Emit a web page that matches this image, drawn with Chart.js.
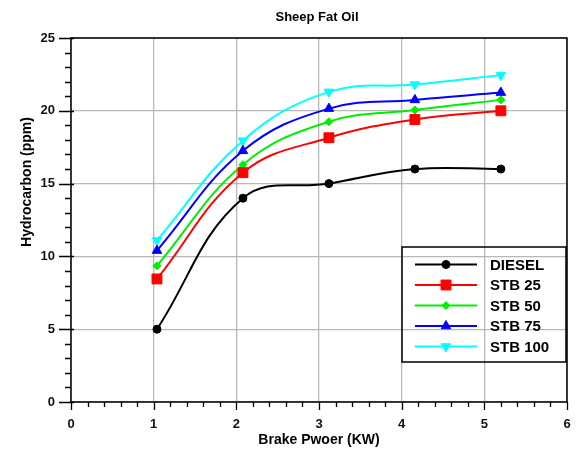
<!DOCTYPE html>
<html>
<head>
<meta charset="utf-8">
<script src="https://cdn.jsdelivr.net/npm/chart.js@4.4.1/dist/chart.umd.min.js"></script>
<style>
  html, body { margin: 0; padding: 0; background: #fff; }
</style>
</head>
<body>
<canvas id="chart" width="579" height="452"></canvas>
<script>
// values
const brakePower = [1.04, 2.08, 3.12, 4.16, 5.2];
const diesel = [5, 14, 15, 16, 16];
const stb25 = [8.45, 15.75, 18.15, 19.4, 20.0];
const stb50 = [9.35, 16.3, 19.25, 20.05, 20.75];
const stb75 = [10.4, 17.25, 20.15, 20.75, 21.25];
const stb100 = [11.1, 17.95, 21.3, 21.8, 22.45];
const seriesNames = ['DIESEL', 'STB 25', 'STB 50', 'STB 75', 'STB 100'];
const xTicks = [0, 1, 2, 3, 4, 5, 6];
const yTicks = [0, 5, 10, 15, 20, 25];

const FONT = '"Liberation Sans", Arial, sans-serif';

const toPoints = vals => vals.map((v, i) => ({ x: brakePower[i], y: v }));

function series(label, vals, color, style, radius, rotation) {
  return {
    label: label,
    data: toPoints(vals),
    borderColor: color,
    backgroundColor: color,
    borderWidth: 2,
    pointStyle: style,
    pointRadius: radius,
    pointHoverRadius: radius,
    pointRotation: rotation || 0,
    pointBorderWidth: 1,
    tension: 0.4,
    fill: false
  };
}

// axis frame, minor ticks, titles and the legend box
const frame = {
  id: 'frame',
  afterDraw(chart) {
    const ctx = chart.ctx;
    const a = chart.chartArea;
    const xs = chart.scales.x, ys = chart.scales.y;
    ctx.save();
    ctx.strokeStyle = '#000';
    ctx.lineWidth = 1.5;
    ctx.strokeRect(a.left, a.top, a.right - a.left, a.bottom - a.top);

    ctx.lineWidth = 1.3;
    ctx.beginPath();
    for (let k = 0; k <= 30; k++) {
      const v = k / 5;
      const px = Math.round(xs.getPixelForValue(v)) + 0.5;
      const len = k % 5 === 0 ? 8 : 5;
      ctx.moveTo(px, a.bottom);
      ctx.lineTo(px, a.bottom + len);
    }
    for (let v = 0; v <= 25; v++) {
      const py = Math.round(ys.getPixelForValue(v)) + 0.5;
      if (v % 5 === 0) {
        ctx.moveTo(a.left - 12, py);
        ctx.lineTo(a.left + 3, py);
      } else {
        ctx.moveTo(a.left - 6, py);
        ctx.lineTo(a.left, py);
      }
    }
    ctx.stroke();

    // chart title
    ctx.fillStyle = '#000';
    ctx.font = 'bold 13px ' + FONT;
    ctx.textAlign = 'center';
    ctx.textBaseline = 'middle';
    ctx.fillText('Sheep Fat Oil', 317, 17);

    // y axis title
    ctx.save();
    ctx.translate(27, 182);
    ctx.rotate(-Math.PI / 2);
    ctx.font = 'bold 14px ' + FONT;
    ctx.fillText('Hydrocarbon (ppm)', 0, 0);
    ctx.restore();

    // legend
    const bx = 402, by = 247, bw = 164, bh = 115;
    ctx.lineWidth = 1.5;
    ctx.strokeStyle = '#000';
    ctx.strokeRect(bx, by, bw, bh);
    ctx.font = 'bold 15px ' + FONT;
    ctx.textAlign = 'left';
    chart.data.datasets.forEach((ds, i) => {
      const y = by + 17.5 + i * 20.5;
      ctx.strokeStyle = ds.borderColor;
      ctx.lineWidth = 2;
      ctx.beginPath();
      ctx.moveTo(415, y);
      ctx.lineTo(477, y);
      ctx.stroke();
      ctx.fillStyle = ds.backgroundColor;
      ctx.lineWidth = 1;
      Chart.helpers.drawPoint(ctx, {
        pointStyle: ds.pointStyle,
        radius: ds.pointRadius,
        rotation: ds.pointRotation,
        borderWidth: 1
      }, 446, y);
      ctx.fillStyle = '#000';
      ctx.fillText(ds.label, 490, y + 1);
    });
    ctx.restore();
  }
};

const ctx = document.getElementById('chart').getContext('2d');
new Chart(ctx, {
  type: 'line',
  data: {
    datasets: [
      series(seriesNames[0], diesel, '#000000', 'circle', 4),
      series(seriesNames[1], stb25, '#ff0000', 'rect', 7),
      series(seriesNames[2], stb50, '#00ee00', 'rectRot', 4),
      series(seriesNames[3], stb75, '#0000ff', 'triangle', 5.5),
      series(seriesNames[4], stb100, '#00ffff', 'triangle', 5.5, 180)
    ]
  },
  options: {
    responsive: false,
    animation: false,
    layout: { padding: { top: 38, right: 12, left: 0, bottom: 0 } },
    plugins: {
      legend: { display: false },
      title: { display: false },
      tooltip: { enabled: false }
    },
    scales: {
      x: {
        type: 'linear',
        min: 0,
        max: 6,
        afterBuildTicks: s => { s.ticks = xTicks.map(v => ({ value: v })); },
        afterFit: s => { s.height = 50; s.paddingLeft = 0; s.paddingRight = 0; },
        grid: { color: '#b8b8b8', lineWidth: 1.3, drawTicks: false },
        border: { display: false },
        ticks: { padding: 15, color: '#111', font: { family: FONT, size: 13, weight: 'bold' } },
        title: {
          display: true,
          text: 'Brake Pwoer (KW)',
          color: '#000',
          padding: { top: 0, bottom: 3 },
          font: { family: FONT, size: 14, weight: 'bold' }
        }
      },
      y: {
        min: 0,
        max: 25,
        afterBuildTicks: s => { s.ticks = yTicks.map(v => ({ value: v })); },
        afterFit: s => { s.width = 71; s.paddingTop = 0; s.paddingBottom = 0; },
        grid: { color: '#b8b8b8', lineWidth: 1.3, drawTicks: false },
        border: { display: false },
        ticks: { padding: 16, color: '#111', font: { family: FONT, size: 13, weight: 'bold' } }
      }
    }
  },
  plugins: [frame]
});
</script>
</body>
</html>
